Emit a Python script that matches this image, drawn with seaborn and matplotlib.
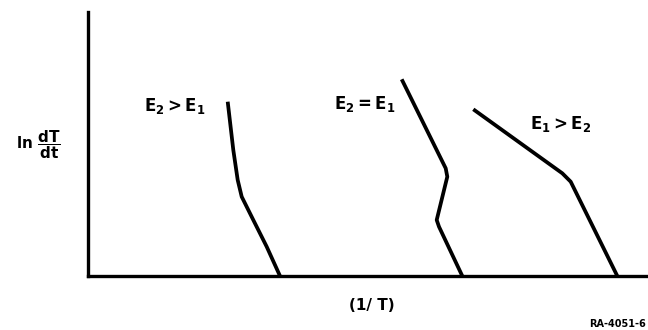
import pandas as pd
import matplotlib
matplotlib.use("Agg")
import matplotlib.pyplot as plt
import seaborn as sns

# curves (arbitrary units, origin at the axes corner)
x_e2_gt_e1 = [13.97, 14.53, 14.97, 15.37, 16.53, 17.87, 19.2]
y_e2_gt_e1 = [17.43, 12.6, 9.6, 7.93, 5.6, 2.93, 0.0]

x_e2_eq_e1 = [31.37, 35.77, 35.93, 34.87, 35.1, 37.43]
y_e2_eq_e1 = [19.67, 10.77, 9.93, 5.6, 4.93, 0.0]

x_e1_gt_e2 = [38.53, 47.43, 48.27, 52.93]
y_e1_gt_e2 = [16.67, 10.27, 9.43, 0.0]

curve_names = ["E2>E1", "E2=E1", "E1>E2"]
curve_labels = [r"$\mathbf{E_2>E_1}$", r"$\mathbf{E_2=E_1}$", r"$\mathbf{E_1>E_2}$"]
label_x = [8.7, 27.7, 47.3]
label_y = [17.0, 17.2, 15.2]

df = pd.concat([
    pd.DataFrame({"x": x_e2_gt_e1, "y": y_e2_gt_e1, "curve": curve_names[0]}),
    pd.DataFrame({"x": x_e2_eq_e1, "y": y_e2_eq_e1, "curve": curve_names[1]}),
    pd.DataFrame({"x": x_e1_gt_e2, "y": y_e1_gt_e2, "curve": curve_names[2]}),
])

sns.set_style("white")
plt.rcParams["font.family"] = ["DejaVu Sans"]
plt.rcParams["font.weight"] = "bold"
plt.rcParams["text.color"] = "black"

fig = plt.figure(figsize=(6.48, 3.30), dpi=100)
ax = fig.add_axes([88 / 648, 54 / 330, 560 / 648, 264 / 330])

for name in curve_names:
    sns.lineplot(data=df[df["curve"] == name], x="x", y="y", sort=False,
                 estimator=None, color="black", linewidth=2.7, ax=ax,
                 solid_joinstyle="round", solid_capstyle="butt")

for txt, lx, ly in zip(curve_labels, label_x, label_y):
    ax.text(lx, ly, txt, fontsize=12, ha="center", va="center")

ax.set_xlim(0, 56)
ax.set_ylim(0, 26.4)
ax.set_xticks([])
ax.set_yticks([])
ax.set_xlabel("")
ax.set_ylabel("")
sns.despine(ax=ax)
for side in ["left", "bottom"]:
    ax.spines[side].set_linewidth(2.4)
    ax.spines[side].set_color("black")

fig.text(38 / 648, 1 - 145 / 330, r"$\mathbf{ln}\ \dfrac{\mathbf{dT}}{\mathbf{dt}}$",
         fontsize=11, ha="center", va="center")
fig.text(372 / 648, 1 - 306 / 330, "(1/ T)", fontsize=11, fontweight="bold",
         ha="center", va="center")
fig.text(0.997, 1 - 324 / 330, "RA-4051-6", fontsize=7, fontweight="bold",
         ha="right", va="center")

fig.savefig("out.png", dpi=100)
